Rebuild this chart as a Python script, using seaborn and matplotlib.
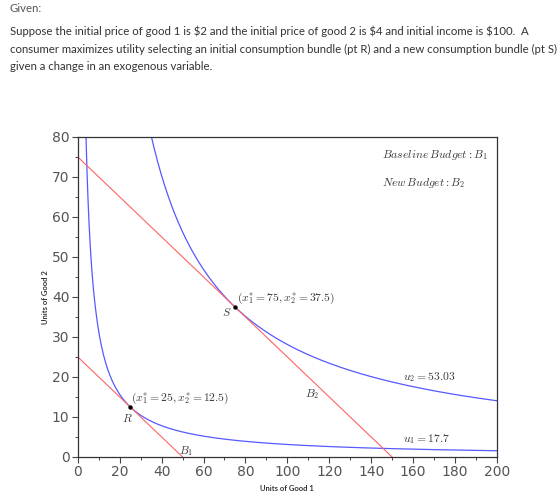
import matplotlib
matplotlib.use("Agg")
import matplotlib.pyplot as plt
from matplotlib.ticker import MultipleLocator
import numpy as np
import pandas as pd
import seaborn as sns

# model
price_1 = 2.0
price_2 = 4.0
incomes = [100.0, 300.0]          # B1, B2
budget_names = ["B1", "B2"]
utility_levels = [17.68, 53.03]   # u1, u2
utility_names = ["u1", "u2"]
optimum_x1 = [25.0, 75.0]         # R, S
optimum_x2 = [12.5, 37.5]
point_names = ["R", "S"]

x_max = 200
y_max = 80

intro_title = "Given:"
intro_lines = [
    "Suppose the initial price of good 1 is \\$2 and the initial price of good 2 is \\$4 and initial income is \\$100.  A",
    "consumer maximizes utility selecting an initial consumption bundle (pt R) and a new consumption bundle (pt S)",
    "given a change in an exogenous variable.",
]

# build tables
budget_rows = []
for name, m in zip(budget_names, incomes):
    budget_rows.append({"budget": name, "x1": 0.0, "x2": m / price_2})
    budget_rows.append({"budget": name, "x1": m / price_1, "x2": 0.0})
budgets = pd.DataFrame(budget_rows)

curve_frames = []
for name, u in zip(utility_names, utility_levels):
    x1 = np.linspace(u ** 2 / y_max, x_max, 400)
    curve_frames.append(pd.DataFrame({"curve": name, "x1": x1, "x2": u ** 2 / x1}))
curves = pd.concat(curve_frames, ignore_index=True)

points = pd.DataFrame({"name": point_names, "x1": optimum_x1, "x2": optimum_x2})

sns.set_theme(style="white")
plt.rcParams["mathtext.fontset"] = "cm"
plt.rcParams["font.family"] = ["DejaVu Sans"]

fig = plt.figure(figsize=(5.6, 4.95), dpi=100)
ax = fig.add_axes([0.139, 0.0768, 0.7482, 0.6465])

sns.lineplot(data=curves, x="x1", y="x2", units="curve", estimator=None,
             color="#5858ff", linewidth=0.9, ax=ax, sort=False)
sns.lineplot(data=budgets, x="x1", y="x2", units="budget", estimator=None,
             color="#ff6464", linewidth=0.8, ax=ax, sort=False)
sns.scatterplot(data=points, x="x1", y="x2", color="black", s=10,
                edgecolor="black", linewidth=0, zorder=5, ax=ax)

ax.set_xlim(0, x_max)
ax.set_ylim(0, y_max)
ax.xaxis.set_major_locator(MultipleLocator(20))
ax.xaxis.set_minor_locator(MultipleLocator(10))
ax.yaxis.set_major_locator(MultipleLocator(10))
ax.yaxis.set_minor_locator(MultipleLocator(5))
ax.tick_params(which="major", direction="out", length=4, width=0.8,
               color="#444444", labelsize=10, labelcolor="#555555",
               bottom=True, left=True, top=False, right=False, pad=2)
ax.tick_params(which="minor", direction="out", length=2, width=0.7,
               color="#444444", bottom=True, left=True, top=False, right=False)
for sp in ax.spines.values():
    sp.set_color("#333333")
    sp.set_linewidth(0.9)

ax.set_xlabel("Units of Good 1", fontsize=5.5, color="#333333",
              fontweight="bold", family="Lato", labelpad=4)
ax.set_ylabel("Units of Good 2", fontsize=5.5, color="#333333",
              fontweight="bold", family="Lato", labelpad=2)

tc = "#3a3a3a"
fs = 8.4
ax.text(25.5, 14.6, r"$(x_1^{*}=25, x_2^{*}=12.5)$", fontsize=fs, color=tc, va="center")
ax.text(23.8, 9.6, r"$R$", fontsize=fs, color=tc, ha="center", va="center")
ax.text(76, 39.6, r"$(x_1^{*}=75, x_2^{*}=37.5)$", fontsize=fs, color=tc, va="center")
ax.text(71.2, 36.0, r"$S$", fontsize=fs, color=tc, ha="center", va="center")
ax.text(51.5, 1.6, r"$B_1$", fontsize=fs, color=tc, ha="center", va="center")
ax.text(112, 15.8, r"$B_2$", fontsize=fs, color=tc, ha="center", va="center")
ax.text(168, 20.0, r"$u_2=53.03$", fontsize=fs, color=tc, ha="center", va="center")
ax.text(166.5, 4.6, r"$u_1=17.7$", fontsize=fs, color=tc, ha="center", va="center")
ax.text(145, 75.5, r"$Baseline\,Budget: B_1$", fontsize=fs, color=tc, va="center")
ax.text(145, 68.5, r"$New\,Budget: B_2$", fontsize=fs, color=tc, va="center")

fig.text(10 / 560, 1 - 8 / 495, intro_title, family="Lato", fontsize=8.2,
         color="#555555", va="center")
for i, line in enumerate(intro_lines):
    fig.text(10 / 560, 1 - (31 + 18 * i) / 495, line, family="Lato",
             fontsize=8.2, color="#333333", va="center")

fig.savefig("out.png", dpi=100)
